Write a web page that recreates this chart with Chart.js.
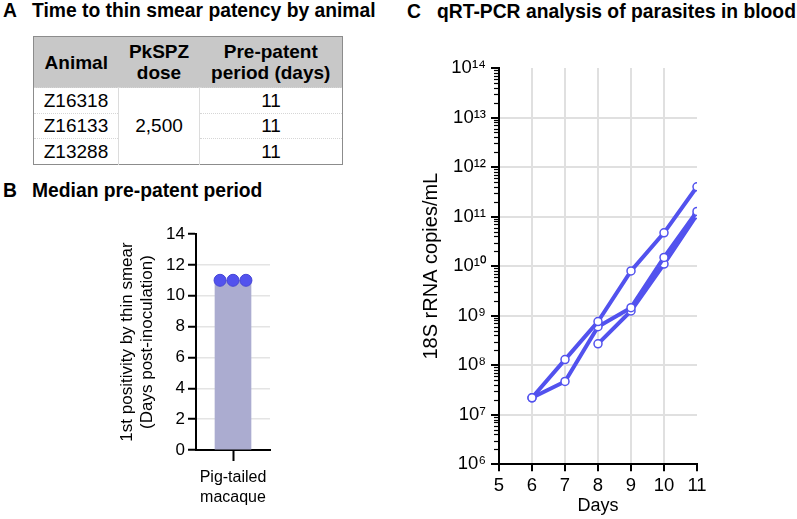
<!DOCTYPE html>
<html>
<head>
<meta charset="utf-8">
<script src="https://cdn.jsdelivr.net/npm/chart.js@4.4.1/dist/chart.umd.min.js"></script>
<style>
  html, body { margin: 0; padding: 0; background: #fff; }
  body { width: 797px; height: 519px; position: relative; overflow: hidden;
         font-family: "Liberation Sans", Arial, sans-serif; color: #000; }
  .pt { position: absolute; font-weight: bold; font-size: 19.3px; line-height: 1; white-space: nowrap; }
  #tbl { position: absolute; left: 33px; top: 36px; border-collapse: collapse;
         border: 1.5px solid #8c8c8c; font-size: 19px; line-height: 21px; }
  #tbl th { background: #c8c8c8; font-weight: bold; height: 50px; padding: 0; text-align: center; vertical-align: middle; }
  #tbl td { height: 24.5px; padding: 0; text-align: center; vertical-align: middle;
            border-top: 1px dotted #d6d6d6; border-left: 1px solid #dcdcdc; }
  #tbl td:first-child { border-left: none; }
  .cv { position: absolute; }
</style>
</head>
<body>
<div class="pt" style="left:3px;top:1px">A</div>
<div class="pt" style="left:32px;top:1px">Time to thin smear patency by animal</div>
<div class="pt" style="left:3px;top:180.5px">B</div>
<div class="pt" style="left:32px;top:180.5px">Median pre-patent period</div>
<div class="pt" style="left:407px;top:1.5px">C</div>
<div class="pt" style="left:437px;top:1.5px">qRT-PCR analysis of parasites in blood</div>

<table id="tbl">
  <colgroup><col style="width:85px"><col style="width:81px"><col style="width:143px"></colgroup>
  <thead><tr id="thead"></tr></thead>
  <tbody id="tbody"></tbody>
</table>

<canvas id="cB" class="cv" width="300" height="319" style="left:0px;top:200px"></canvas>
<canvas id="cC" class="cv" width="320" height="479" style="left:400px;top:40px"></canvas>

<script>
// ---------- Panel A: table data ----------
const tableHeaders = [['Animal'], ['PkSPZ', 'dose'], ['Pre-patent', 'period (days)']];
const tableAnimals = ['Z16318', 'Z16133', 'Z13288'];
const tableDose = '2,500';
const tablePrepatentDays = [11, 11, 11];

// ---------- Panel B: bar + points ----------
const barGroupLabel = ['Pig-tailed', 'macaque'];
const barYTicks = [0, 2, 4, 6, 8, 10, 12, 14];
const barYTitle = ['1st positivity by thin smear', '(Days post-inoculation)'];

// ---------- Panel C: qRT-PCR ----------
const qpcrDays = [6, 7, 8, 9, 10, 11];
const qpcrAnimal1 = [2.2e7, 1.3e8, 7.6e8, 8.0e9, 4.7e10, 4.0e11];
const qpcrAnimal2 = [2.2e7, 4.7e7, 6.0e8, 1.45e9, 1.5e10, 1.27e11];
const qpcrAnimal3 = [null, null, 2.7e8, 1.25e9, 1.1e10, 1.1e11];
const qpcrXTicks = [5, 6, 7, 8, 9, 10, 11];
const qpcrYDecades = [6, 7, 8, 9, 10, 11, 12, 13, 14];
const qpcrYTitle = '18S rRNA copies/mL';
const qpcrXTitle = 'Days';

// ---------- build table ----------
const thead = document.getElementById('thead');
tableHeaders.forEach(h => {
  const th = document.createElement('th');
  h.forEach((line, i) => { if (i) th.appendChild(document.createElement('br')); th.appendChild(document.createTextNode(line)); });
  thead.appendChild(th);
});
const tbody = document.getElementById('tbody');
tableAnimals.forEach((a, i) => {
  const tr = document.createElement('tr');
  const td1 = document.createElement('td'); td1.textContent = a; tr.appendChild(td1);
  if (i === 0) {
    const td2 = document.createElement('td'); td2.textContent = tableDose; td2.rowSpan = tableAnimals.length; tr.appendChild(td2);
  }
  const td3 = document.createElement('td'); td3.textContent = tablePrepatentDays[i]; tr.appendChild(td3);
  tbody.appendChild(tr);
});

// ---------- Panel B chart ----------
const sorted = [...tablePrepatentDays].sort((a, b) => a - b);
const median = sorted.length % 2 ? sorted[(sorted.length - 1) / 2] : (sorted[sorted.length / 2 - 1] + sorted[sorted.length / 2]) / 2;
const spread = 0.35;
const nPts = tablePrepatentDays.length;

new Chart(document.getElementById('cB'), {
  type: 'bar',
  data: {
    datasets: [
      { type: 'scatter', data: tablePrepatentDays.map((v, i) => ({ x: 1 + (i - (nPts - 1) / 2) * spread, y: v })),
        pointRadius: 6, backgroundColor: '#5252ee', borderColor: '#4646d6', borderWidth: 1, order: 1 },
      { type: 'bar', data: [{ x: 1, y: median }], backgroundColor: '#abacd0', barThickness: 36, order: 2 }
    ]
  },
  options: {
    responsive: false, animation: false, devicePixelRatio: 1,
    layout: { padding: { top: 34, right: 30, left: 0, bottom: 0 } },
    plugins: { legend: { display: false }, tooltip: { enabled: false } },
    scales: {
      x: {
        type: 'linear', min: 0, max: 2, offset: false,
        afterBuildTicks: s => { s.ticks = [{ value: 1 }]; },
        afterFit: s => { s.height = 69; },
        grid: { drawOnChartArea: false, drawTicks: true, tickLength: 11, tickWidth: 2, tickColor: '#000', offset: false },
        border: { color: '#000', width: 2 },
        ticks: { callback: () => barGroupLabel, font: { size: 16, lineHeight: 1.25 }, color: '#000', padding: 7, maxRotation: 0, autoSkip: false }
      },
      y: {
        min: 0, max: 14,
        afterBuildTicks: s => { s.ticks = barYTicks.map(v => ({ value: v })); },
        afterFit: s => { s.width = 196; },
        grid: { color: c => (c.tick && c.tick.value > 0 && c.tick.value < 14) ? '#e4e4e4' : 'rgba(0,0,0,0)',
                lineWidth: 1.5, tickColor: '#000', tickLength: 8, tickWidth: 2 },
        border: { color: '#000', width: 2 },
        ticks: { font: { size: 17 }, color: '#000', padding: 3, autoSkip: false },
        title: { display: true, text: barYTitle, font: { size: 17, lineHeight: 1.18 }, color: '#000', padding: { top: 117, bottom: 0 } }
      }
    }
  }
});

// ---------- Panel C chart ----------
const supDigits = '⁰¹²³⁴⁵⁶⁷⁸⁹';
const toSup = n => String(n).split('').map(d => supDigits[+d]).join('');
const isDecade = v => Math.abs(Math.log10(v) - Math.round(Math.log10(v))) < 1e-9;
const yMin = Math.pow(10, qpcrYDecades[0]);
const yMax = Math.pow(10, qpcrYDecades[qpcrYDecades.length - 1]);

const yTickPlugin = {
  id: 'yTicksC',
  afterDraw(chart) {
    const s = chart.scales.y, ctx = chart.ctx, x0 = s.right;
    ctx.save();
    ctx.strokeStyle = '#000';
    s.ticks.forEach(t => {
      const major = isDecade(t.value);
      const y = Math.round(s.getPixelForValue(t.value)) + (major ? 0 : 0.5);
      ctx.lineWidth = major ? 2 : 1.2;
      ctx.beginPath();
      ctx.moveTo(x0 - (major ? 8 : 5), y);
      ctx.lineTo(x0, y);
      ctx.stroke();
    });
    ctx.restore();
  }
};

const lineColor = '#5252ee';
new Chart(document.getElementById('cC'), {
  type: 'line',
  data: {
    datasets: [qpcrAnimal1, qpcrAnimal2, qpcrAnimal3].map(arr => ({
      data: qpcrDays.map((d, i) => ({ x: d, y: arr[i] })).filter(p => p.y !== null),
      borderColor: lineColor, borderWidth: 4, tension: 0,
      pointRadius: 4, pointBackgroundColor: '#fff', pointBorderColor: lineColor, pointBorderWidth: 1.5,
      clip: 0
    }))
  },
  options: {
    responsive: false, animation: false, devicePixelRatio: 1,
    layout: { padding: { top: 28, right: 23, left: 0, bottom: 0 } },
    plugins: { legend: { display: false }, tooltip: { enabled: false } },
    scales: {
      x: {
        type: 'linear', min: qpcrXTicks[0], max: qpcrXTicks[qpcrXTicks.length - 1],
        afterBuildTicks: s => { s.ticks = qpcrXTicks.map(v => ({ value: v })); },
        afterFit: s => { s.height = 54.7; },
        grid: { color: c => (c.tick && c.tick.value > qpcrXTicks[0] && c.tick.value < qpcrXTicks[qpcrXTicks.length - 1]) ? '#e0e0e0' : 'rgba(0,0,0,0)',
                lineWidth: 2, tickColor: '#000', tickLength: 7, tickWidth: 2 },
        border: { color: '#000', width: 2 },
        ticks: { font: { size: 18.5 }, color: '#000', padding: 4, autoSkip: false, maxRotation: 0 },
        title: { display: true, text: qpcrXTitle, font: { size: 18 }, color: '#000', padding: { top: 0, bottom: 2 } }
      },
      y: {
        type: 'logarithmic', min: yMin, max: yMax,
        afterBuildTicks: s => {
          const t = [];
          qpcrYDecades.forEach((e, i) => {
            if (i === qpcrYDecades.length - 1) { t.push({ value: Math.pow(10, e) }); return; }
            for (let k = 1; k <= 9; k++) t.push({ value: k * Math.pow(10, e) });
          });
          s.ticks = t;
        },
        afterFit: s => { s.width = 99; },
        grid: { color: c => (c.tick && isDecade(c.tick.value) && c.tick.value > yMin && c.tick.value < yMax) ? '#e0e0e0' : 'rgba(0,0,0,0)',
                lineWidth: 2, drawTicks: false },
        border: { color: '#000', width: 2 },
        ticks: { autoSkip: false, font: { size: 18.5 }, color: '#000', padding: 13,
                 callback: v => isDecade(v) ? '10' + toSup(Math.round(Math.log10(v))) : '' },
        title: { display: true, text: qpcrYTitle, font: { size: 20 }, color: '#000', padding: { top: 19, bottom: 0 } }
      }
    }
  },
  plugins: [yTickPlugin]
});
</script>
</body>
</html>
